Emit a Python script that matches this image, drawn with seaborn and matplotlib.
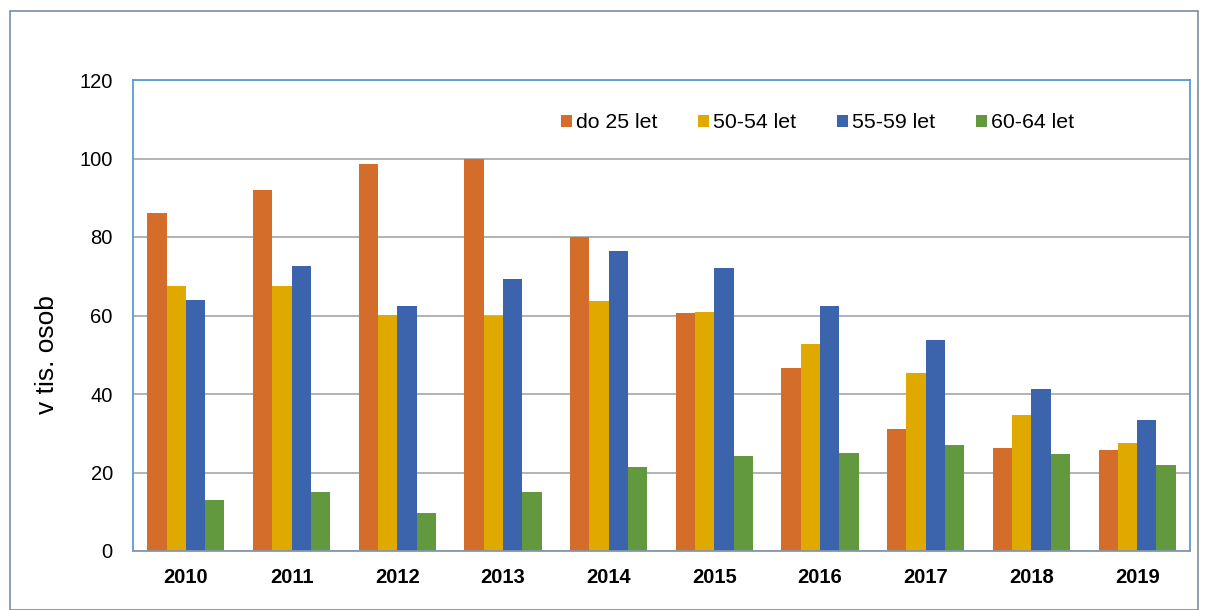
import pandas as pd
import numpy as np
import matplotlib.pyplot as plt
import seaborn as sns
from matplotlib.patches import Rectangle

###############################################################
# data (thousands of persons)
years = ['2010', '2011', '2012', '2013', '2014', '2015', '2016', '2017', '2018', '2019']
groups = ['do 25 let', '50-54 let', '55-59 let', '60-64 let']

do_25 = [86.2, 91.9, 98.6, 100.0, 80.0, 60.6, 46.7, 31.2, 26.2, 25.7]
let_50_54 = [67.4, 67.4, 60.1, 60.0, 63.7, 60.9, 52.7, 45.4, 34.7, 27.4]
let_55_59 = [63.9, 72.6, 62.4, 69.2, 76.4, 72.0, 62.5, 53.7, 41.3, 33.3]
let_60_64 = [13.0, 15.0, 9.7, 15.0, 21.4, 24.2, 25.0, 26.9, 24.6, 22.0]

colors = ['#D46C2A', '#E0A900', '#3B64AD', '#62993E']

rows = []
for g, vals in zip(groups, [do_25, let_50_54, let_55_59, let_60_64]):
    for y, v in zip(years, vals):
        rows.append({'rok': y, 'skupina': g, 'hodnota': v})
df = pd.DataFrame(rows)

###############################################################
sns.set_style('white')
plt.rcParams['font.family'] = ['Liberation Sans', 'DejaVu Sans']
plt.rcParams['text.color'] = 'black'
plt.rcParams['xtick.color'] = 'black'
plt.rcParams['ytick.color'] = 'black'
plt.rcParams['axes.labelcolor'] = 'black'

fig = plt.figure(figsize=(12.08, 6.10), dpi=100)
ax = fig.add_axes([133 / 1208, 1 - 551 / 610, (1190 - 133) / 1208, (551 - 80) / 610])

sns.barplot(data=df, x='rok', y='hodnota', hue='skupina', palette=colors,
            width=0.73, gap=0, linewidth=0, saturation=1, ax=ax)

ax.set_ylim(0, 120)
ax.set_yticks(np.arange(0, 121, 20))
ax.set_xlim(-0.5, len(years) - 0.5)
ax.yaxis.grid(True, color='#A6A6A6', linewidth=1.2)
ax.set_axisbelow(True)
ax.tick_params(axis='y', labelsize=14.5, length=0, pad=14.5)
ax.tick_params(axis='x', labelsize=14.5, length=0, pad=12)
for lbl in ax.get_xticklabels():
    lbl.set_fontweight('bold')

ax.set_xlabel('')
ax.set_ylabel('v tis. osob', fontsize=19)
ax.yaxis.set_label_coords(-0.070, 0.418)

for side in ['left', 'top', 'right']:
    ax.spines[side].set_color('#5B9BD5')
    ax.spines[side].set_linewidth(1.3)
ax.spines['bottom'].set_color('#8497B0')
ax.spines['bottom'].set_linewidth(1.3)

ax.legend(ncol=4, loc='upper left', bbox_to_anchor=(0.387, 0.970), frameon=False,
          fontsize=15.3, handlelength=0.5, handleheight=0.5, handletextpad=0.19,
          columnspacing=1.93)

# outer chart border
fig.patches.append(Rectangle((10 / 1208, 0), 1 - 20 / 1208, 1 - 11 / 610,
                             transform=fig.transFigure, fill=False,
                             edgecolor='#7F8C9C', linewidth=1.2))

plt.savefig('out.png', dpi=100)
